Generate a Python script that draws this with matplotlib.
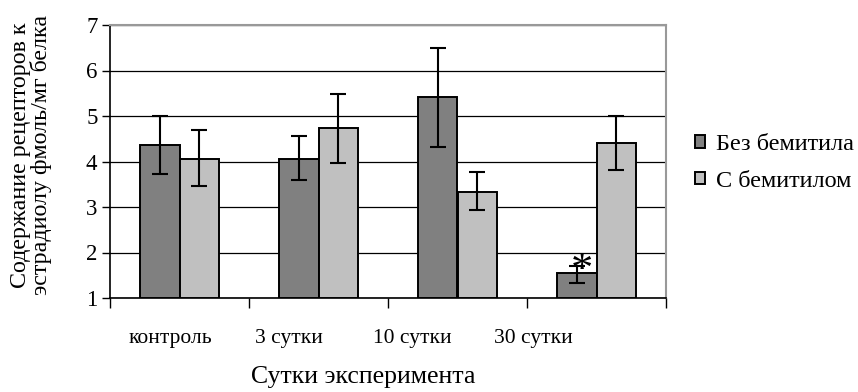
import numpy as np
import matplotlib.pyplot as plt

plt.rcParams['font.family'] = ['Liberation Serif', 'DejaVu Serif']

categories = ['контроль', '3 сутки', '10 сутки', '30 сутки']
series_names = ['Без бемитила', 'С бемитилом']
without_bem = [4.36, 4.06, 5.41, 1.54]
without_lo = [3.73, 3.59, 4.31, 1.34]
without_hi = [4.99, 4.56, 6.49, 1.71]
with_bem = [4.06, 4.74, 3.34, 4.40]
with_lo = [3.47, 3.97, 2.93, 3.81]
with_hi = [4.69, 5.48, 3.76, 4.99]
yticks = [1, 2, 3, 4, 5, 6, 7]

fig = plt.figure(figsize=(8.58, 3.92), dpi=100)
ax = fig.add_axes([110/858, 1-298/392, 556/858, 273/392])

x = np.arange(len(categories))
w = 0.287
base = 1

def draw(vals, lo, hi, offset, color, label):
    vals = np.array(vals)
    ax.bar(x + offset, vals - base, w, bottom=base, color=color,
           edgecolor='black', linewidth=1.4, label=label, zorder=3)
    err = [vals - np.array(lo), np.array(hi) - vals]
    ax.errorbar(x + offset, vals, yerr=err, fmt='none', ecolor='black',
                elinewidth=1.5, capsize=5.5, capthick=1.5, zorder=4)

draw(without_bem, without_lo, without_hi, -w/2, '#808080', series_names[0])
draw(with_bem, with_lo, with_hi, w/2, '#c0c0c0', series_names[1])

# значимость
ax.text(x[3] - w/2 + 0.04, without_hi[3] - 0.12, '*', ha='center', va='center',
        fontsize=32, zorder=5)

ax.set_xlim(-0.5, 3.5)
ax.set_ylim(1, 7)
ax.set_yticks(yticks)
ax.tick_params(axis='y', labelsize=16.5, length=6, width=1, direction='out', pad=3)
ax.set_xticks(np.arange(-0.5, 4, 1))
ax.set_xticklabels([])
ax.tick_params(axis='x', length=7, width=1, direction='out')
ax.yaxis.grid(True, color='black', linewidth=0.9, zorder=0)
ax.set_axisbelow(True)

for s in ['top', 'right']:
    ax.spines[s].set_color('#999999')
    ax.spines[s].set_linewidth(1.5)
for s in ['left', 'bottom']:
    ax.spines[s].set_color('black')
    ax.spines[s].set_linewidth(1.2)

# подписи категорий (как на исходнике)
label_pos = [0.109, 0.322, 0.543, 0.761]
for p, c in zip(label_pos, categories):
    ax.text(p, -0.147, c, transform=ax.transAxes, ha='center', va='center',
            fontsize=15.5)

fig.text(363/858, 1-377/392, 'Сутки эксперимента', ha='center', va='center',
         fontsize=18.5)
fig.text(31/858, 1-155/392, 'Содержание рецепторов к\nэстрадиолу фмоль/мг белка',
         rotation=90, ha='center', va='center', fontsize=17.3, linespacing=0.98)

leg = fig.legend(loc='center left', bbox_to_anchor=(695/858, 1-163/392),
                 frameon=False, fontsize=17.5, handlelength=0.42, handleheight=0.42,
                 handletextpad=0.45, labelspacing=0.62, borderaxespad=0, borderpad=0)

fig.savefig('out.png', dpi=100)
